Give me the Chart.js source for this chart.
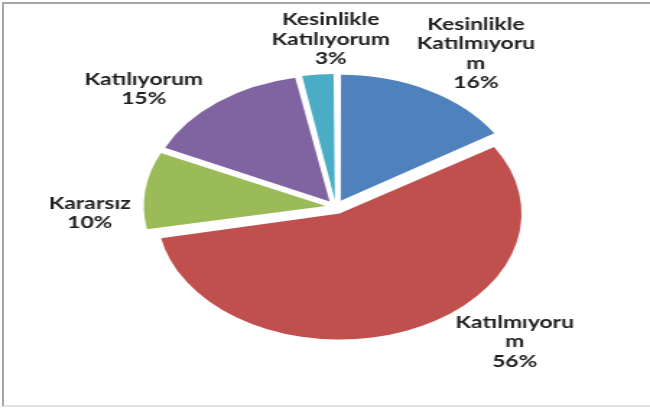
<!DOCTYPE html>
<html>
<head>
<meta charset="utf-8">
<script src="https://cdn.jsdelivr.net/npm/chart.js@4/dist/chart.umd.min.js"></script>
<style>
  html, body { margin: 0; padding: 0; background: #fff; }
  #wrap { position: relative; width: 650px; height: 410px; overflow: hidden; }
  #frame { position: absolute; left: 2px; top: 2px; width: 720px; height: 405px;
           border: 2px solid #a6a6a6; border-bottom-color: #e2e2e2; box-sizing: border-box; }
  #pie { position: absolute; left: 0; top: 0; }
</style>
</head>
<body>
<div id="wrap">
  <div id="frame"></div>
  <canvas id="pie" width="450" height="410" style="width:650px;height:410px"></canvas>
</div>
<script>
// answer categories, clockwise from the top
const categories = ["Kesinlikle Katılmıyorum", "Katılmıyorum", "Kararsız", "Katılıyorum", "Kesinlikle Katılıyorum"];
// shares in percent
const shares = [16, 56, 10, 15, 3];
// labels as Excel wrapped them
const labelLines = [
  ["Kesinlikle", "Katılmıyoru", "m"],
  ["Katılmıyoru", "m"],
  ["Kararsız"],
  ["Katılıyorum"],
  ["Kesinlikle", "Katılıyorum"]
];
const colors = ["#4f81bd", "#c0504d", "#9bbb59", "#8064a2", "#4bacc6"];

// best-fit label placement: [angle shift in degrees, distance in radii]
const labelPlace = [[3.5, 1.44], [-21, 1.452], [-9.2, 1.353], [-10.6, 1.411], [4.2, 1.333]];

const EXPLODE = 28;

// chart.js grows the radius of exploded arcs a bit; undo that so all slices are the same size
const evenRadius = {
  id: "evenRadius",
  afterDatasetUpdate(chart, args){
    args.meta.data.forEach(function(arc){
      const fix = 1 - Math.sin(Math.min(Math.PI, arc.circumference || 0));
      arc.outerRadius -= (EXPLODE / 4) * fix;
    });
  }
};

const pieLabels = {
  id: "pieLabels",
  afterDatasetsDraw(chart){
    const ctx = chart.ctx;
    const arcs = chart.getDatasetMeta(0).data;
    ctx.save();
    ctx.fillStyle = "#1e1e1e";
    ctx.font = "bold 17px Lato";
    ctx.textAlign = "center";
    ctx.textBaseline = "middle";
    const lh = 19.5;
    arcs.forEach(function(arc, i){
      const p = arc.getProps(["x","y","startAngle","endAngle"], true);
      const a = (p.startAngle + p.endAngle) / 2 + labelPlace[i][0] * Math.PI / 180;
      const r = chart.options.radius * labelPlace[i][1];
      const cx = p.x + Math.cos(a) * r;
      const cy = p.y + Math.sin(a) * r;
      const lines = labelLines[i].concat([shares[i] + "%"]);
      const top = cy - (lines.length - 1) * lh / 2;
      lines.forEach(function(t, k){
        ctx.save();
        ctx.translate(cx, top + k * lh);
        ctx.scale(0.93, 1);
        ctx.fillText(t, 0, 0);
        ctx.restore();
      });
    });
    ctx.restore();
  }
};

new Chart(document.getElementById("pie"), {
  type: "pie",
  data: {
    labels: categories,
    datasets: [{
      data: shares,
      backgroundColor: colors,
      borderWidth: 0,
      offset: EXPLODE
    }]
  },
  options: {
    responsive: false,
    animation: false,
    events: [],
    radius: 126,
    layout: { padding: { left: 15, top: 4, right: 0, bottom: 0 } },
    plugins: {
      legend: { display: false },
      tooltip: { enabled: false }
    }
  },
  plugins: [evenRadius, pieLabels]
});
</script>
</body>
</html>
